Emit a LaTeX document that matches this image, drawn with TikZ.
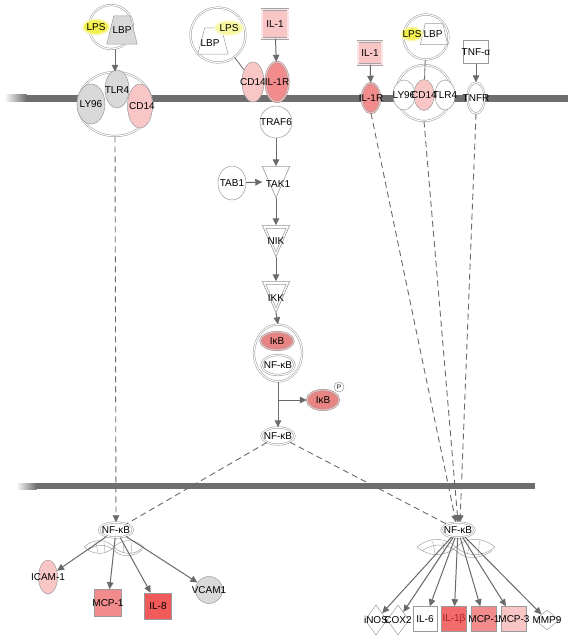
\documentclass[tikz,border=0pt]{standalone}
\usepackage{fontspec}
\setmainfont{Liberation Sans}
\usetikzlibrary{shapes.geometric,arrows.meta,calc}
\definecolor{memb}{HTML}{6E6E6E}
\definecolor{edge}{HTML}{6A6A6A}
\definecolor{outl}{HTML}{9A9A9A}
\definecolor{gfill}{HTML}{D9D9D9}
\definecolor{pk1}{HTML}{F9C6C6}
\definecolor{pk2}{HTML}{F28C8C}
\definecolor{pk3}{HTML}{F05A5A}
\definecolor{pk4}{HTML}{F26C6C}
\definecolor{ikb}{HTML}{E98484}
\definecolor{lps}{HTML}{F3EF4C}
\definecolor{darkred}{HTML}{A82020}
\tikzset{
  lab/.style={font=\fontsize{10}{11}\selectfont, inner sep=0pt, text=black},
  mol/.style={draw=outl, line width=0.5pt, inner sep=0pt, fill=white},
  oval/.style={mol, ellipse},
  rnd/.style={mol, circle},
  box/.style={mol, rectangle},
  dia/.style={mol, diamond},
  holder/.style={inner sep=0pt, rectangle},
  trapln/.style={draw=outl, line width=0.5pt},
  dbl/.style={double=#1, double distance=1.1pt},
  dbl/.default=white,
  lpsst/.style={ellipse, fill=lps, draw=lps!45, line width=1.6pt, inner sep=0pt},
  arr/.style={draw=edge, line width=1pt, -{Triangle[length=7pt,width=6.5pt]}},
  plainln/.style={draw=edge, line width=0.8pt},
  dashln/.style={draw=edge, line width=0.9pt, dash pattern=on 6pt off 4pt},
  dashar/.style={dashln, -{Triangle[length=7pt,width=6.5pt]}},
  tribox/.style={inner sep=0pt, minimum width=27, minimum height=31},
  pics/dna/.style={code={
    \draw[outl, line width=0.45pt]
      (-30,0) .. controls (-20,-9) and (-8,-8) .. (0,0) .. controls (8,8) and (20,9) .. (30,0);
    \draw[outl, line width=0.45pt]
      (-30,0) .. controls (-20,9) and (-8,8) .. (0,0) .. controls (8,-8) and (20,-9) .. (30,0);
    \draw[outl, line width=0.45pt]
      (-26,3) .. controls (-16,-4) and (-6,-3) .. (2,5) .. controls (10,12) and (22,8) .. (28,3);
    \draw[outl, line width=0.35pt] (-18,-5) -- (-16,6) (-10,-4) -- (-9,5) (10,-4) -- (9,6) (18,-5) -- (17,7);
  }}
}
\begin{document}
\begin{tikzpicture}[x=1pt,y=-1pt]
\useasboundingbox (0,0) rectangle (572,638);
\fill[white] (0,0) rectangle (572,638);

% membranes
\fill[memb] (26,94.5) rectangle (568,101.5);
\shade[left color=white, right color=memb] (4,94.5) rectangle (26.5,101.5);
\fill[memb] (36,483) rectangle (535,489);
\shade[left color=white, right color=memb] (16,483) rectangle (36.5,489);

% ---------- left top ----------
\node[rnd, dbl, minimum size=44] (cplxL) at (111,27) {};
\node[lpsst, minimum width=26, minimum height=15, label={[lab]center:LPS}] (lpsL) at (96,27) {};
\node[holder, minimum width=30, minimum height=28] (lbpL) at (122,30) {};
\filldraw[trapln, fill=gfill] (lbpL.south west) -- (lbpL.south east) -- ($(lbpL.north east)+(-7,0)$) -- ($(lbpL.north west)+(7,0)$) -- cycle;
\node[lab] (lbpLt) at (lbpL) {LBP};
\node[oval, dbl, minimum width=74, minimum height=64] (tlrL) at (115,104) {};
\node[oval, fill=gfill, minimum width=28, minimum height=40, label={[lab]center:LY96}] (ly96L) at (91,104) {};
\node[oval, fill=gfill, minimum width=24, minimum height=38, label={[lab,yshift=-1pt]center:TLR4}] (tlr4L) at (117,89) {};
\node[oval, fill=pk1, minimum width=25, minimum height=44, label={[lab,xshift=2pt]center:CD14}] (cd14L) at (140,106) {};
\draw[arr] (tlrL.north |- cplxL.south) -- (tlrL.north);

% ---------- middle top ----------
\node[rnd, dbl, minimum size=55] (cplxM) at (218,35) {};
\node[holder, minimum width=30, minimum height=26] (lbpM) at (213,41) {};
\filldraw[trapln, fill=white] (lbpM.south west) -- (lbpM.south east) -- ($(lbpM.north east)+(-7,0)$) -- ($(lbpM.north west)+(7,0)$) -- cycle;
\node[lab] (lbpMt) at ($(lbpM)+(-3,2)$) {LBP};
\node[lpsst, fill=lps!55, draw=lps!30, minimum width=28, minimum height=14, label={[lab]center:LPS}] (lpsM) at (229,28) {};
\node[box, fill=pk1, draw=outl!90, dbl=pk1!45, minimum width=26, minimum height=29, label={[lab]center:IL-1}] (il1M) at (275,24) {};
\node[oval, fill=pk1, minimum width=22, minimum height=40, label={[lab]center:CD14}] (cd14M) at (253,82) {};
\node[oval, fill=pk2, dbl=pk2!60!white, minimum width=23, minimum height=40, label={[lab]center:IL-1R}] (il1rM) at (277,82) {};
\draw[plainln] (cplxM) -- (cd14M);
\draw[arr] (il1M) -- (il1rM);

\node[rnd, minimum size=32, label={[lab]center:TRAF6}] (traf6) at (276,122) {};
\node[oval, minimum width=28, minimum height=34, label={[lab]center:TAB1}] (tab1) at (232,183) {};
\node[tribox] (tak1) at (276,182) {};
\draw[outl, line width=0.6pt] (tak1.north west) -- (tak1.north east) -- (tak1.south) -- cycle;
\node[lab] (tak1t) at (278,184) {TAK1};
\node[tribox] (nik) at (276,241) {};
\draw[outl, line width=0.6pt] (nik.north west) -- (nik.north east) -- (nik.south) -- cycle;
\draw[outl, line width=0.5pt] ($(nik.north west)+(3.5,3)$) -- ($(nik.north east)+(-3.5,3)$) -- ($(nik.south)+(0,-5)$) -- cycle;
\node[lab] (nikt) at (276,241) {NIK};
\node[tribox] (ikk) at (276,297) {};
\draw[outl, line width=0.6pt] (ikk.north west) -- (ikk.north east) -- (ikk.south) -- cycle;
\draw[outl, line width=0.5pt] ($(ikk.north west)+(3.5,3)$) -- ($(ikk.north east)+(-3.5,3)$) -- ($(ikk.south)+(0,-5)$) -- cycle;
\node[lab] (ikkt) at (276,298) {IKK};

\draw[arr] (traf6) -- (tak1.north);
\draw[arr] (tab1) -- (tak1.west);
\draw[arr] (tak1.south) -- (nik.north);
\draw[arr] (nik.south) -- (ikk.north);

\node[oval, dbl, minimum width=48, minimum height=57] (cplxI) at (278,353) {};
\node[oval, fill=ikb, dbl=ikb!55!white, minimum width=33, minimum height=18, label={[lab]center:IκB}] (ikbA) at (277,341) {};
\node[oval, dbl, minimum width=33, minimum height=20, label={[lab]center:NF-κB}] (nfkbA) at (278,365) {};
\draw[arr] (ikk.south) -- (cplxI.north);

\node[oval, fill=ikb, dbl=ikb!55!white, minimum width=32, minimum height=20, label={[lab]center:IκB}] (ikbP) at (323,400) {};
\node[rnd, minimum size=10, label={[lab,font=\fontsize{6.5}{7}\selectfont]center:P}] (pP) at (339,387) {};
\node[oval, dbl, minimum width=33, minimum height=17, label={[lab]center:NF-κB}] (nfkbM) at (278,436) {};
\coordinate (br) at (cplxI.south |- ikbP.west);
\draw[arr] (cplxI.south) -- (nfkbM.north);
\draw[arr] (br) -- (ikbP.west);

% ---------- right top ----------
\node[box, fill=pk1, draw=outl!90, dbl=pk1!45, minimum width=24, minimum height=23, label={[lab]center:IL-1}] (il1R) at (370,53) {};
\node[oval, fill=pk2, dbl=pk2!60!white, minimum width=18, minimum height=30, label={[lab]center:IL-1R}] (il1rR) at (371,98) {};
\draw[arr] (il1R) -- (il1rR);

\node[rnd, dbl, minimum size=45] (cplxRl) at (426,37) {};
\node[holder, minimum width=27, minimum height=21] (lbpR) at (434,34) {};
\filldraw[trapln, fill=white] (lbpR.south west) -- (lbpR.south east) -- ($(lbpR.north east)+(-5,0)$) -- ($(lbpR.north west)+(5,0)$) -- cycle;
\node[lab] (lbpRt) at ($(lbpR)+(-1,0)$) {LBP};
\node[lpsst, minimum width=21, minimum height=13, label={[lab]center:LPS}] (lpsR) at (412,34) {};
\node[rnd, dbl, minimum size=56] (cplxR) at (424,93) {};
\node[oval, minimum width=22, minimum height=30, label={[lab]center:LY96}] (ly96R) at (404,95) {};
\node[oval, minimum width=20, minimum height=30, label={[lab]center:TLR4}] (tlr4R) at (445,95) {};
\node[oval, fill=pk1, minimum width=20, minimum height=31, label={[lab]center:CD14}] (cd14R) at (424,95) {};
\draw[plainln] (cplxRl) -- (cd14R);

\node[box, minimum width=25, minimum height=23, label={[lab]center:TNF-α}] (tnfa) at (476,52) {};
\node[oval, dbl, minimum width=17, minimum height=31, label={[lab]center:TNFR}] (tnfr) at (476,98) {};
\draw[arr] (tnfa) -- (tnfr);

% ---------- lower NF-kB nodes ----------
\node[oval, dbl, minimum width=34, minimum height=15, label={[lab]center:NF-κB}] (nfL) at (116,530) {};
\node[oval, dbl, minimum width=33, minimum height=15, label={[lab]center:NF-κB}] (nfR) at (458,530) {};

% dashed connectors
\draw[dashar] (tlrL.south) -- (nfL.north);
\draw[dashln] (nfkbM) -- (nfL);
\draw[dashln] (nfkbM) -- (nfR);
\draw[dashar] (il1rR.south) -- ($(nfR.north)+(-2,0)$);
\draw[dashar] (cplxR.south) -- (nfR.north);
\draw[dashar] (tnfr.south) -- ($(nfR.north)+(2,0)$);

% helices
\pic at (114,547) {dna};
\pic[xscale=1.3, yscale=1.2] at (456,547) {dna};

% ---------- left targets ----------
\node[oval, fill=pk1, minimum width=19, minimum height=34, label={[lab]center:ICAM-1}] (icam) at (48,577) {};
\node[box, fill=pk2, minimum width=27, minimum height=27, label={[lab]center:MCP-1}] (mcp1L) at (108,603) {};
\node[box, fill=pk3, minimum width=27, minimum height=26, label={[lab]center:IL-8}] (il8) at (158,606) {};
\node[rnd, fill=gfill, minimum size=27, label={[lab]center:VCAM1}] (vcam) at (209,590) {};
\draw[arr] (nfL) -- (icam);
\draw[arr] (nfL) -- (mcp1L);
\draw[arr] (nfL) -- (il8);
\draw[arr] (nfL) -- (vcam);

% ---------- right targets ----------
\node[dia, minimum width=22, minimum height=30, label={[lab]center:iNOS}] (inos) at (376,620) {};
\node[dia, minimum width=22, minimum height=30, label={[lab]center:COX2}] (cox2) at (398,620) {};
\node[box, minimum width=24, minimum height=25, label={[lab]center:IL-6}] (il6) at (425,619) {};
\node[box, fill=pk4, minimum width=25, minimum height=25, label={[lab,text=darkred]center:IL-1β}] (il1b) at (454,619) {};
\node[box, fill=pk2, minimum width=25, minimum height=25, label={[lab]center:MCP-1}] (mcp1R) at (484,619) {};
\node[box, fill=pk1, minimum width=25, minimum height=25, label={[lab]center:MCP-3}] (mcp3) at (514,619) {};
\node[dia, minimum width=24, minimum height=20, label={[lab]center:MMP9}] (mmp9) at (547,620) {};
\foreach \t in {inos,cox2,il6,il1b,mcp1R,mcp3,mmp9}{\draw[arr] (nfR) -- (\t);}
\end{tikzpicture}
\end{document}
